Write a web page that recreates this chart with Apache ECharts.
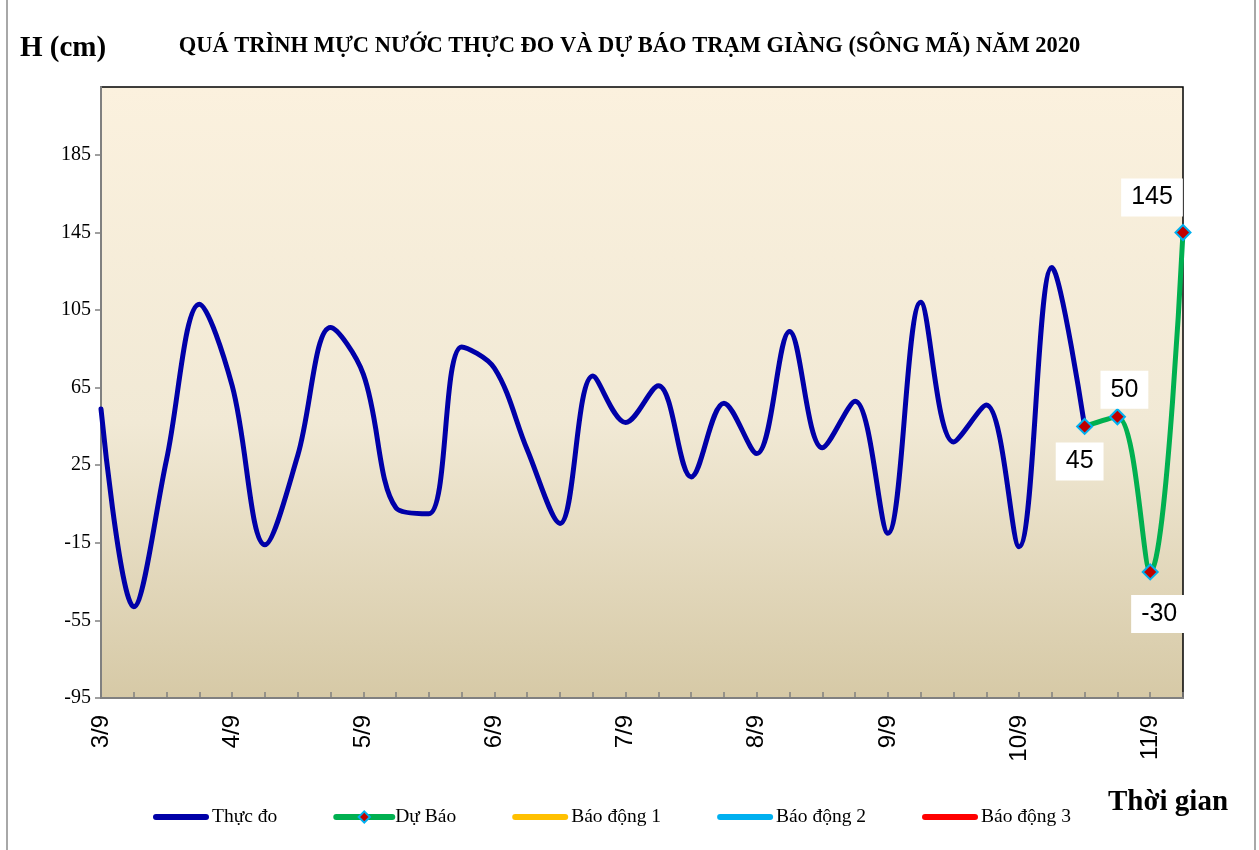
<!DOCTYPE html>
<html>
<head>
<meta charset="utf-8">
<title>Mực nước trạm Giàng</title>
<script src="https://cdn.jsdelivr.net/npm/echarts@6/dist/echarts.min.js"></script>
<style>
  html, body { margin: 0; padding: 0; background: #fff; }
  #chart { width: 1259px; height: 850px; }
</style>
</head>
<body>
<div id="chart"></div>
<script>
// nhãn ngày trên trục hoành, mỗi ngày 4 lần đo (0h, 6h, 12h, 18h)
const days = ['3/9', '4/9', '5/9', '6/9', '7/9', '8/9', '9/9', '10/9', '11/9'];
const hours = ['', '6h', '12h', '18h'];
const yTicks = [-95, -55, -15, 25, 65, 105, 145, 185];

// mực nước thực đo (cm), từ 3/9 0h đến 10/9 12h
const thucDo = [54, -48, 28, 108, 66, -16, 30, 96, 72, 3, 0, 86, 75, 33, -5, 71, 47, 66, 19, 57,
  31, 94, 34, 58, -10, 109, 37, 56, -17, 127, 45];
// dự báo, từ 10/9 12h đến 11/9 6h
const duBao = [45, 50, -30, 145];
// các mức báo động (nằm ngoài khung hình)
const baoDong1 = [];
const baoDong2 = [];
const baoDong3 = [];

const serif = "'Times New Roman', 'Liberation Serif', serif";
const sans = "Arial, 'Liberation Sans', sans-serif";

const categories = days.flatMap(d => hours.map(h => (h ? d + ' ' + h : d)))
  .slice(0, thucDo.length + duBao.length - 1);

// vị trí nhãn các điểm dự báo
const labelOffsets = [[-5, 35], [7, -27], [9, 42], [-31, -35]];
const start = thucDo.length - 1;
const duBaoData = categories.map((c, i) => {
  const k = i - start;
  if (k < 0) return '-';
  return {
    value: duBao[k],
    label: { offset: labelOffsets[k] }
  };
});

// icon thanh ngang bo tròn cho chú giải
const barIcon = 'path://M3,0 L53,0 A3,3 0 0 1 53,6 L3,6 A3,3 0 0 1 3,0 Z';

const option = {
  animation: false,
  backgroundColor: '#fff',
  title: [
    {
      text: 'QUÁ TRÌNH MỰC NƯỚC THỰC ĐO VÀ DỰ BÁO TRẠM GIÀNG (SÔNG MÃ) NĂM 2020',
      left: 'center',
      top: 30,
      textStyle: { fontFamily: serif, fontSize: 22.5, fontWeight: 'bold', color: '#000' }
    },
    {
      text: 'H (cm)',
      left: 15,
      top: 29,
      textStyle: { fontFamily: serif, fontSize: 29, fontWeight: 'bold', color: '#000' }
    },
    {
      text: 'Thời gian',
      left: 1103,
      top: 783,
      textStyle: { fontFamily: serif, fontSize: 29, fontWeight: 'bold', color: '#000' }
    }
  ],
  graphic: [{
    type: 'rect',
    silent: true,
    shape: { x: 7, y: -2, width: 1248, height: 854 },
    style: { fill: 'none', stroke: '#8c8c8c', lineWidth: 1.5 }
  }],
  legend: {
    left: 148,
    top: 802,
    itemWidth: 56,
    itemHeight: 14,
    itemGap: 56,
    textStyle: { fontFamily: serif, fontSize: 19.5, color: '#000', padding: [0, 0, 0, -2] },
    data: [
      { name: 'Thực đo', icon: barIcon },
      { name: 'Dự Báo', lineStyle: { width: 6, cap: 'round' } },
      { name: 'Báo động 1', icon: barIcon },
      { name: 'Báo động 2', icon: barIcon },
      { name: 'Báo động 3', icon: barIcon }
    ]
  },
  grid: {
    left: 101,
    right: 76,
    top: 87,
    bottom: 152,
    show: true,
    borderColor: '#000',
    borderWidth: 1.5,
    backgroundColor: {
      type: 'linear', x: 0, y: 0, x2: 0, y2: 1,
      colorStops: [
        { offset: 0, color: '#FBF1DE' },
        { offset: 0.55, color: '#F1E9D5' },
        { offset: 1, color: '#D6C9A6' }
      ]
    }
  },
  xAxis: {
    type: 'category',
    data: categories,
    boundaryGap: false,
    axisLine: { onZero: false, lineStyle: { color: '#808080', width: 2 } },
    axisTick: { inside: true, length: 6, interval: 0, lineStyle: { color: '#808080', width: 1.5 } },
    axisLabel: {
      interval: 3,
      rotate: 90,
      margin: 17,
      fontFamily: sans,
      fontSize: 24,
      color: '#000',
      formatter: v => v.split(' ')[0]
    },
    splitLine: { show: false }
  },
  yAxis: {
    type: 'value',
    min: -95,
    max: 220,
    axisLine: { show: true, lineStyle: { color: '#808080', width: 2 } },
    axisTick: { show: true, length: 6, customValues: yTicks, lineStyle: { color: '#808080', width: 1.5 } },
    axisLabel: { customValues: yTicks, margin: 10, fontFamily: serif, fontSize: 20, color: '#000' },
    splitLine: { show: false }
  },
  series: [
    {
      name: 'Thực đo',
      type: 'line',
      data: thucDo,
      smooth: 0.35,
      symbol: 'none',
      lineStyle: { color: '#0000A8', width: 5, cap: 'round' },
      itemStyle: { color: '#0000A8' },
      z: 2
    },
    {
      name: 'Dự Báo',
      type: 'line',
      data: duBaoData,
      smooth: 0.35,
      symbol: 'diamond',
      symbolSize: 15,
      lineStyle: { color: '#00B050', width: 5, cap: 'round' },
      itemStyle: { color: '#C00000', borderColor: '#00B0F0', borderWidth: 2 },
      label: {
        show: true,
        position: 'inside',
        fontFamily: sans,
        fontSize: 25,
        color: '#000',
        backgroundColor: '#fff',
        padding: [7, 10, 6, 10]
      },
      z: 3
    },
    {
      name: 'Báo động 1', type: 'line', data: baoDong1, symbol: 'none',
      lineStyle: { color: '#FFC000', width: 5 }, itemStyle: { color: '#FFC000' }
    },
    {
      name: 'Báo động 2', type: 'line', data: baoDong2, symbol: 'none',
      lineStyle: { color: '#00B0F0', width: 5 }, itemStyle: { color: '#00B0F0' }
    },
    {
      name: 'Báo động 3', type: 'line', data: baoDong3, symbol: 'none',
      lineStyle: { color: '#FF0000', width: 5 }, itemStyle: { color: '#FF0000' }
    }
  ]
};

const myChart = echarts.init(document.getElementById('chart'));
myChart.setOption(option);
</script>
</body>
</html>
